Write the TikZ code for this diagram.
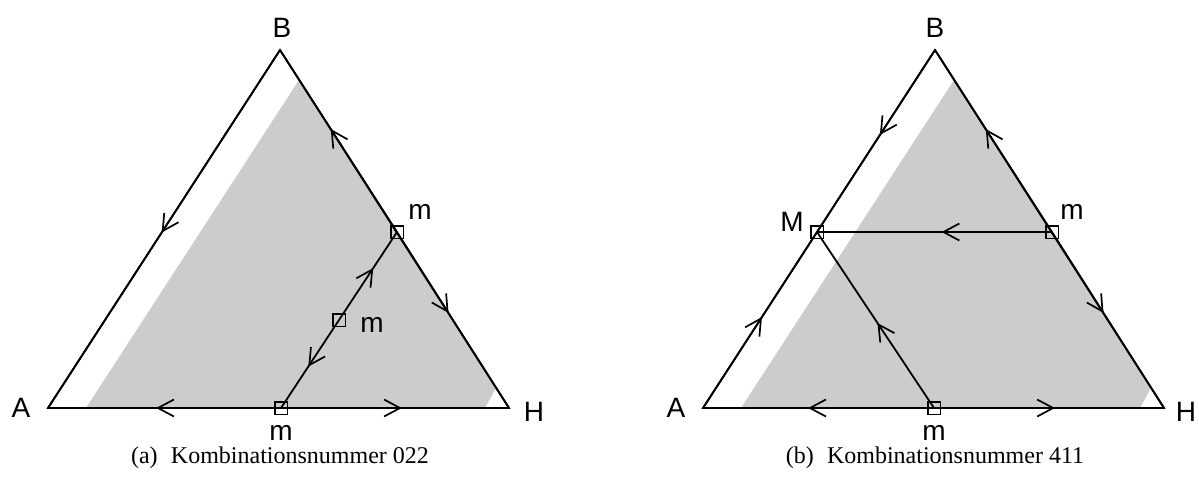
\documentclass[tikz,border=0pt]{standalone}
\usepackage{fontspec}
\setmainfont{Liberation Serif}
\newfontfamily\labelfont{Liberation Sans}
\usetikzlibrary{arrows.meta,decorations.markings}
\definecolor{regiongray}{RGB}{204,204,204}
\begin{document}
\begin{tikzpicture}[x=1pt,y=-1pt,
  edge/.style={line width=1.8pt,line join=miter},
  arr/.style={postaction={decorate},decoration={markings,
     mark=at position #1 with {\arrow{Straight Barb[length=16pt,width=17pt,line width=1.7pt]}}}},
  sq/.style={draw,line width=1.5pt,rectangle,minimum size=12.5pt,inner sep=0pt},
  lbl/.style={inner sep=0pt,font=\labelfont\fontsize{28}{32}\selectfont},
  capt/.style={inner sep=0pt,font=\fontsize{24}{28}\selectfont}]
\useasboundingbox (0,0) rectangle (1199,485);

% ---------- left triangle (a) ----------
\coordinate (A1) at (48,408);
\coordinate (B1) at (280,50);
\coordinate (H1) at (509,408);
\coordinate (m1) at (281,408);
\coordinate (m2) at (397,232);
\coordinate (m3) at (339,320);
\coordinate (g1a) at (86,408);
\coordinate (g1b) at (299,80);
\coordinate (g1c) at (496,388);
\coordinate (g1d) at (485,408);
\fill[regiongray] (g1a) -- (g1b) -- (g1c) -- (g1d) -- cycle;
\draw[edge] (A1) -- (B1) -- (H1) -- cycle;
\draw[edge,arr=0.51] (B1) -- (A1);
\draw[edge,arr=0.566] (m2) -- (B1);
\draw[edge,arr=0.46] (m2) -- (H1);
\draw[edge,arr=0.536] (m1) -- (A1);
\draw[edge,arr=0.53] (m1) -- (H1);
\draw[edge,arr=0.59] (m3) -- (m2);
\draw[edge,arr=0.53] (m3) -- (m1);
\node[sq] (s1) at (m1) {};
\node[sq] (s2) at (m2) {};
\node[sq] (s3) at (m3) {};
\node[lbl] (lA1) at (21,408) {A};
\node[lbl] (lB1) at (282,28) {B};
\node[lbl] (lH1) at (534,412) {H};
\node[lbl] (lm1) at (281,433) {m};
\node[lbl] (lm2) at (420,212) {m};
\node[lbl] (lm3) at (372,325) {m};
\node[capt] (c1) at (280,458) {(a)\hspace{0.55em}Kombinationsnummer 022};

% ---------- right triangle (b) ----------
\coordinate (A2) at (703,408);
\coordinate (B2) at (935,50);
\coordinate (H2) at (1164,408);
\coordinate (M2) at (817,232);
\coordinate (n2) at (1052,232);
\coordinate (n1) at (934,408);
\coordinate (g2a) at (741,408);
\coordinate (g2b) at (954,80);
\coordinate (g2c) at (1151,388);
\coordinate (g2d) at (1140,408);
\fill[regiongray] (g2a) -- (g2b) -- (g2c) -- (g2d) -- cycle;
\draw[edge] (A2) -- (B2) -- (H2) -- cycle;
\draw[edge,arr=0.517] (A2) -- (M2);
\draw[edge,arr=0.467] (B2) -- (M2);
\draw[edge,arr=0.566] (n2) -- (B2);
\draw[edge,arr=0.46] (n2) -- (H2);
\draw[edge,arr=0.47] (n2) -- (M2);
\draw[edge,arr=0.483] (n1) -- (M2);
\draw[edge,arr=0.545] (n1) -- (A2);
\draw[edge,arr=0.526] (n1) -- (H2);
\node[sq] (t1) at (M2) {};
\node[sq] (t2) at (n2) {};
\node[sq] (t3) at (n1) {};
\node[lbl] (lA2) at (676,408) {A};
\node[lbl] (lB2) at (935,28) {B};
\node[lbl] (lH2) at (1186,412) {H};
\node[lbl] (lM2) at (792,222) {M};
\node[lbl] (ln2) at (1072,212) {m};
\node[lbl] (ln1) at (934,433) {m};
\node[capt] (c2) at (935,458) {(b)\hspace{0.55em}Kombinationsnummer 411};
\end{tikzpicture}
\end{document}
